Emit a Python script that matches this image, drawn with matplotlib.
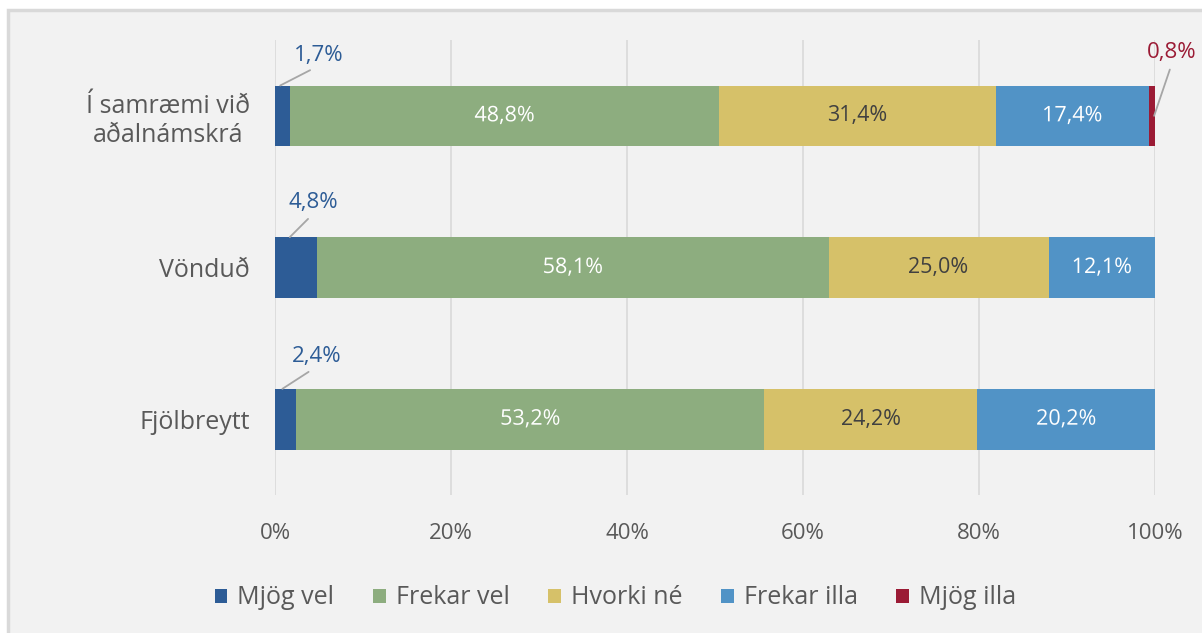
import matplotlib
matplotlib.use("Agg")
import matplotlib.pyplot as plt
import matplotlib.patheffects as pe
from matplotlib.patches import Rectangle

plt.rcParams['font.family'] = ['Open Sans', 'DejaVu Sans']

# data
categories = ["Í samræmi við\naðalnámskrá", "Vönduð", "Fjölbreytt"]
series = ["Mjög vel", "Frekar vel", "Hvorki né", "Frekar illa", "Mjög illa"]
mjog_vel = [1.7, 4.8, 2.4]
frekar_vel = [48.8, 58.1, 53.2]
hvorki_ne = [31.4, 25.0, 24.2]
frekar_illa = [17.4, 12.1, 20.2]
mjog_illa = [0.8, 0.0, 0.0]
ticks = [0, 20, 40, 60, 80, 100]

colors = ["#2D5C96", "#8DAD7F", "#D6C169", "#5193C6", "#9B1B35"]
label_colors = [None, "white", "#404040", "white", None]
values = [mjog_vel, frekar_vel, hvorki_ne, frekar_illa, mjog_illa]

def pct(v):
    return f"{v:.1f}%".replace(".", ",")

fig = plt.figure(figsize=(12.02, 6.33), dpi=100)
fig.patch.set_facecolor("white")
bg = Rectangle((8 / 1202, -0.05), 1.1, 1 - 10 / 633 + 0.05,
               transform=fig.transFigure, facecolor="#f2f2f2",
               edgecolor="#d9d9d9", linewidth=2.5, zorder=-10)
fig.patches.append(bg)

ax = fig.add_axes([275 / 1202, 1 - 495 / 633, 880 / 1202, 455 / 633])
ax.set_facecolor("none")

ypos = list(range(len(categories)))
left = [0.0] * len(categories)
for i, (name, vals) in enumerate(zip(series, values)):
    ax.barh(ypos, vals, left=left, height=0.4, color=colors[i], label=name, zorder=3)
    for j, v in enumerate(vals):
        if label_colors[i] is not None and v > 0:
            t = ax.text(left[j] + v / 2, ypos[j], pct(v), ha="center", va="center",
                        color=label_colors[i], fontsize=15.5, zorder=4)
            if label_colors[i] == "white":
                t.set_path_effects([pe.SimpleLineShadow(offset=(1, -1), shadow_color="black", alpha=0.3),
                                    pe.Normal()])
    left = [l + v for l, v in zip(left, vals)]

# small segments labelled outside with leader lines
offsets = [(39, 20), (24, 24), (34, 22)]
for j, v in enumerate(mjog_vel):
    ax.annotate(pct(v), xy=(v * 0.35, ypos[j] - 0.2),
                xytext=offsets[j], textcoords="offset pixels", ha="center", va="bottom",
                color=colors[0], fontsize=16, zorder=5,
                arrowprops=dict(arrowstyle="-", color="#a6a6a6", lw=1.3,
                                shrinkA=3, shrinkB=0, relpos=(0.5, 0.0)))
ax.annotate(pct(mjog_illa[0]), xy=(99.9, ypos[0]),
            xytext=(18, 53), textcoords="offset pixels", ha="center", va="bottom",
            color=colors[4], fontsize=16, zorder=5,
            arrowprops=dict(arrowstyle="-", color="#a6a6a6", lw=1.3,
                            shrinkA=3, shrinkB=0, relpos=(0.5, 0.0)))

ax.set_xlim(0, 100)
ax.set_ylim(2.5, -0.5)
ax.set_xticks(ticks)
ax.set_xticklabels([f"{t}%" for t in ticks], fontsize=16, color="#595959")
ax.set_yticks(ypos)
ax.set_yticklabels(categories, fontsize=18, color="#595959", multialignment="center")
ax.tick_params(length=0)
ax.tick_params(axis="y", pad=18)
ax.tick_params(axis="x", pad=20)
ax.xaxis.grid(True, color="#d9d9d9", linewidth=1.2, zorder=0)
for s in ax.spines.values():
    s.set_visible(False)

fig.legend(loc="center", bbox_to_anchor=(0.512, 1 - 598 / 633), ncol=5, frameon=False,
           fontsize=18, handlelength=0.5, handleheight=0.5, columnspacing=1.55,
           handletextpad=0.4, labelcolor="#595959")

fig.savefig("out.png", dpi=100, facecolor=fig.get_facecolor())
